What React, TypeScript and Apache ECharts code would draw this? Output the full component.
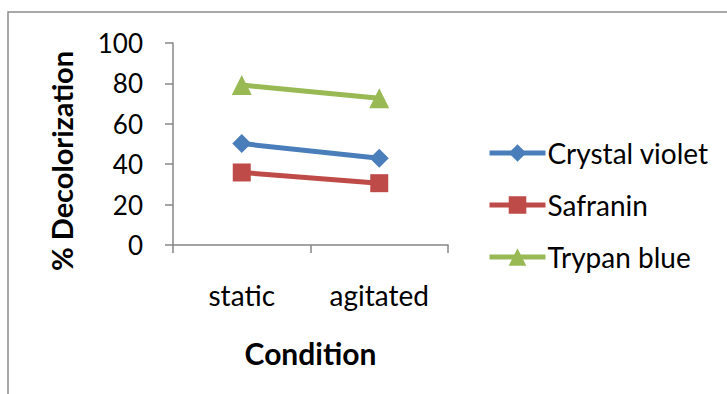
import React, { useEffect, useRef } from "react";
import * as echarts from "echarts";

const categories = ["static", "agitated"];
const crystalViolet = [50.2, 43.0];
const safranin = [35.9, 30.6];
const trypanBlue = [79.2, 72.6];
const yTicks = { min: 0, max: 100, interval: 20 };

const FONT = "Lato, 'Open Sans', sans-serif";

export default function App() {
  const ref = useRef<HTMLDivElement>(null);
  useEffect(() => {
    if (!ref.current) return;
    const chart = echarts.init(ref.current, undefined, { renderer: "svg" });
    const axisColor = "#868686";
    chart.setOption({
      animation: false,
      backgroundColor: "#ffffff",
      textStyle: { fontFamily: FONT },
      graphic: [
        {
          type: "rect",
          shape: { x: 8, y: 12, width: 900, height: 600 },
          style: { fill: "none", stroke: "#8c8c8c", lineWidth: 1.5 },
          silent: true,
          z: -1,
        },
        {
          type: "text",
          x: 61,
          y: 161,
          rotation: Math.PI / 2,
          style: {
            text: "% Decolorization",
            fontSize: 29,
            fontWeight: "bold",
            fill: "#000",
            fontFamily: FONT,
            align: "center",
            verticalAlign: "middle",
          },
        },
      ],
      grid: { left: 173, top: 43, width: 275, height: 202 },
      legend: {
        orient: "vertical",
        left: 482,
        top: 134,
        itemWidth: 56,
        itemHeight: 22,
        itemGap: 24,
        lineStyle: { width: 5 },
        textStyle: { fontSize: 28, color: "#000", fontFamily: FONT, padding: [0, 0, 0, -3] },
        data: ["Crystal violet", "Safranin", "Trypan blue"],
      },
      xAxis: {
        type: "category",
        data: categories,
        boundaryGap: true,
        name: "Condition",
        nameLocation: "middle",
        nameGap: 93,
        nameTextStyle: { fontSize: 30, fontWeight: "bold", color: "#000", fontFamily: FONT },
        axisLine: { lineStyle: { color: axisColor, width: 1.5 } },
        axisTick: { show: true, length: 8, lineStyle: { color: axisColor, width: 1.5 } },
        axisLabel: { fontSize: 28, color: "#000", margin: 36, fontFamily: FONT },
        splitLine: { show: false },
      },
      yAxis: {
        type: "value",
        min: yTicks.min,
        max: yTicks.max,
        interval: yTicks.interval,
        axisLine: { show: true, lineStyle: { color: axisColor, width: 1.5 } },
        axisTick: { show: true, length: 8, lineStyle: { color: axisColor, width: 1.5 } },
        axisLabel: { fontSize: 26, color: "#000", margin: 30, fontFamily: FONT },
        splitLine: { show: false },
      },
      series: [
        {
          name: "Crystal violet",
          type: "line",
          data: crystalViolet,
          symbol: "diamond",
          symbolSize: 19,
          lineStyle: { width: 5, color: "#4A7EBB" },
          itemStyle: { color: "#4A7EBB" },
        },
        {
          name: "Safranin",
          type: "line",
          data: safranin,
          symbol: "rect",
          symbolSize: 18,
          lineStyle: { width: 5, color: "#BE4B48" },
          itemStyle: { color: "#BE4B48" },
        },
        {
          name: "Trypan blue",
          type: "line",
          data: trypanBlue,
          symbol: "triangle",
          symbolSize: 20,
          lineStyle: { width: 5, color: "#98B954" },
          itemStyle: { color: "#98B954" },
        },
      ],
    });
    return () => chart.dispose();
  }, []);
  return (
    <div
      ref={ref}
      style={{ position: "absolute", left: 0, top: 0, width: 727, height: 394 }}
    />
  );
}
